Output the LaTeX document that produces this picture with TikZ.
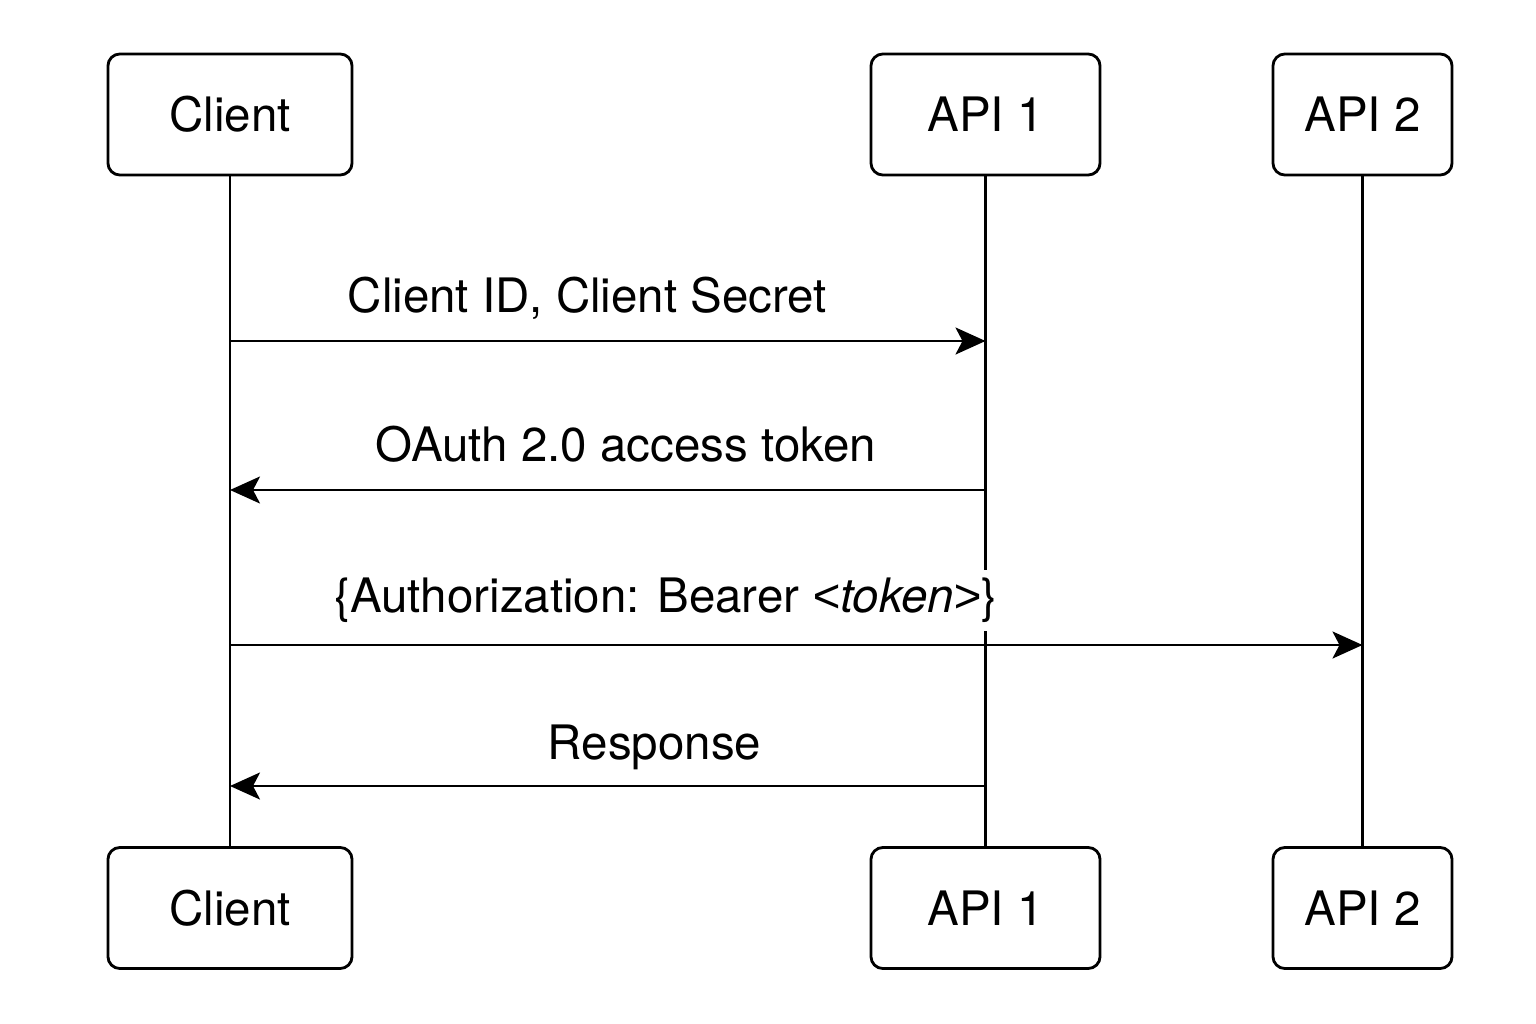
\documentclass[tikz,border=0pt]{standalone}
\usepackage{fontspec}
\setmainfont{TeX Gyre Heros}
\newfontfamily\ltgtfont{Liberation Sans}
\usetikzlibrary{arrows.meta,
                quotes}

\begin{document}
\begin{tikzpicture}[x=0.01cm, y=-0.01cm,
actor/.style = {draw, rounded corners=0.12cm, line width=0.8pt,
                minimum height=1.21cm, font=\fontsize{13.5}{16}\selectfont},
lifeline/.style = {line width=0.7pt},
every edge/.style = {draw, -{Stealth[length=0.3cm, width=0.27cm, inset=0.07cm]},
                     line width=0.7pt},
every edge quotes/.style = {font=\fontsize{13.5}{16}\selectfont, fill=white,
                            inner sep=0.08cm, anchor=base, yshift=0.28cm}
                            ]
\useasboundingbox (0,0) rectangle (1536,1024);
\foreach \n/\t/\x/\w in {c/Client/230/2.44, a/API 1/985.5/2.29, b/API 2/1362.5/1.79}
    {
    \node[actor, minimum width=\w cm] (\n-top) at (\x,114.5) {\t};
    \node[actor, minimum width=\w cm] (\n-bot) at (\x,908) {\t};
    \draw[lifeline] (\n-top) -- (\n-bot);
    }
%
\coordinate (m1-c) at (c-top |- 0,341);
\coordinate (m1-a) at (a-top |- 0,341);
\coordinate (m2-a) at (a-top |- 0,490);
\coordinate (m2-c) at (c-top |- 0,490);
\coordinate (m3-c) at (c-top |- 0,645);
\coordinate (m3-b) at (b-top |- 0,645);
\coordinate (m4-a) at (a-top |- 0,786);
\coordinate (m4-c) at (c-top |- 0,786);
%
\draw   (m1-c) edge ["{Client ID, Client Secret}" pos=0.473] (m1-a)
        (m2-a) edge ["{OAuth 2.0 access token}" pos=0.476] (m2-c)
        (m3-c) edge ["{\{Authorization: Bearer \textit{{\ltgtfont <}token{\ltgtfont >}}\}}" {pos=0.385, yshift=0.04cm}] (m3-b)
        (m4-a) edge ["Response" {pos=0.438, yshift=-0.02cm}] (m4-c);
\end{tikzpicture}
\end{document}
